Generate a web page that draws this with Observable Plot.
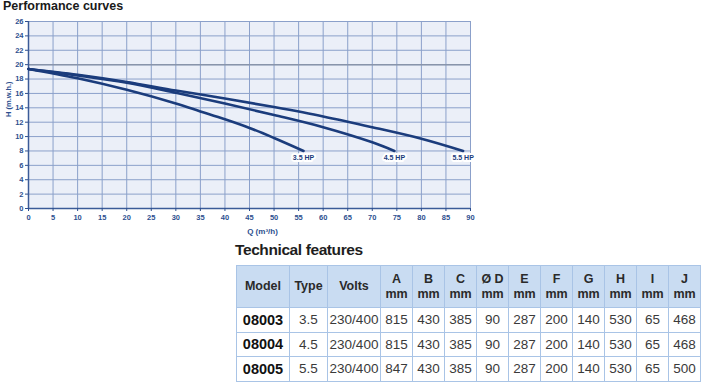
<!DOCTYPE html>
<html>
<head>
<meta charset="utf-8">
<script src="https://cdn.jsdelivr.net/npm/d3@7"></script>
<script src="https://cdn.jsdelivr.net/npm/@observablehq/plot@0.6"></script>
<style>
  html, body { margin: 0; padding: 0; background: #fff; width: 705px; height: 386px; overflow: hidden; }
  #wrap { position: relative; width: 705px; height: 386px; }
  #title { position: absolute; left: 3px; top: -1px; font: bold 12.5px "Liberation Sans", Arial, sans-serif; color: #1a1a1a; line-height: 15px; }
  #chart { position: absolute; left: 0; top: 16px; }
  #ttitle { position: absolute; left: 235px; top: 241px; font: bold 15.5px "Liberation Sans", Arial, sans-serif; color: #1e1e1e; line-height: 18px; letter-spacing: -0.4px; }
  #tbl { position: absolute; left: 236px; top: 265px; border-collapse: collapse; table-layout: fixed; font-family: "Liberation Sans", Arial, sans-serif; }
  #tbl td, #tbl th { border: 1px solid #a9c4e6; text-align: center; padding: 0; }
  #tbl th { background: #c9dcf2; color: #2a2a2a; font-weight: bold; font-size: 12.5px; line-height: 15px; height: 41px; }
  #tbl td { background: #fff; color: #3a3a3a; font-size: 13.5px; height: 23.5px; }
  #tbl td.model { font-weight: bold; color: #111; font-size: 14.5px; }
  #tbl { border: 1.5px solid #9cbbe0; }
</style>
</head>
<body>
<div id="wrap">
  <div id="title">Performance curves</div>
  <div id="chart"></div>
  <div id="ttitle">Technical features</div>
  <table id="tbl"></table>
</div>
<script>
// ---- Curve data: Q (m³/h) and H (m.w.h.) ----
const series = ["3.5 HP", "4.5 HP", "5.5 HP"];
const q35 = [0, 10, 20, 30, 35, 40, 45, 50, 56];
const h35 = [19.4, 18.1, 16.5, 14.6, 13.5, 12.4, 11.2, 9.8, 8.0];
const q45 = [0, 10, 20, 30, 40, 50, 60, 70, 74.5];
const h45 = [19.4, 18.5, 17.5, 16.1, 14.6, 13.0, 11.3, 9.2, 8.0];
const q55 = [0, 10, 20, 30, 40, 50, 60, 70, 80, 88.5];
const h55 = [19.4, 18.6, 17.6, 16.4, 15.3, 14.1, 12.8, 11.3, 9.7, 8.0];
const xTicks = [0, 5, 10, 15, 20, 25, 30, 35, 40, 45, 50, 55, 60, 65, 70, 75, 80, 85, 90];
const yTicks = [0, 2, 4, 6, 8, 10, 12, 14, 16, 18, 20, 22, 24, 26];
const xLabel = "Q (m³/h)";
const yLabel = "H (m.w.h.)";

// ---- Table data ----
const headers = ["Model", "Type", "Volts", "A", "B", "C", "Ø D", "E", "F", "G", "H", "I", "J"];
const units = ["", "", "", "mm", "mm", "mm", "mm", "mm", "mm", "mm", "mm", "mm", "mm"];
const models = ["08003", "08004", "08005"];
const types = ["3.5", "4.5", "5.5"];
const volts = ["230/400", "230/400", "230/400"];
const dimA = [815, 815, 847];
const dimB = [430, 430, 430];
const dimC = [385, 385, 385];
const dimD = [90, 90, 90];
const dimE = [287, 287, 287];
const dimF = [200, 200, 200];
const dimG = [140, 140, 140];
const dimH = [530, 530, 530];
const dimI = [65, 65, 65];
const dimJ = [468, 468, 500];

const qs = [q35, q45, q55];
const hs = [h35, h45, h55];
const pts = [];
const ends = [];
series.forEach((s, i) => {
  qs[i].forEach((q, j) => pts.push({s, q, h: hs[i][j]}));
  const n = qs[i].length - 1;
  ends.push({s, q: qs[i][n], h: hs[i][n]});
});

const gridColor = "#8ba0ca";
const axisColor = "#2d4f8f";
const lineColor = "#1b3c7c";

const chart = Plot.plot({
  width: 480,
  height: 224,
  marginLeft: 28,
  marginRight: 10,
  marginTop: 5,
  marginBottom: 32,
  x: {domain: [0, 90]},
  y: {domain: [0, 26]},
  style: {fontFamily: "'Liberation Sans Narrow', 'Liberation Sans', Arial, sans-serif", fontSize: "7.5px", fontWeight: "bold", background: "transparent"},
  marks: [
    Plot.frame({fill: "#ebeff8", stroke: null}),
    Plot.gridX(xTicks, {stroke: gridColor, strokeOpacity: 1, strokeWidth: 1}),
    Plot.gridY(yTicks, {stroke: gridColor, strokeOpacity: 1, strokeWidth: 1}),
    Plot.ruleY([20], {stroke: "#8894aa", strokeWidth: 1.5}),
    Plot.frame({stroke: gridColor}),
    Plot.ruleX([0], {stroke: "#3b5b98", strokeWidth: 1.5}),
    Plot.ruleY([0], {stroke: "#3b5b98", strokeWidth: 1.5}),
    Plot.axisX(xTicks, {tickSize: 3, tickPadding: 3, label: null, color: axisColor}),
    Plot.axisY(yTicks, {tickSize: 3, tickPadding: 2, label: null, color: axisColor}),
    Plot.line(pts, {x: "q", y: "h", z: "s", curve: "catmull-rom", stroke: lineColor, strokeWidth: 2.6}),
    Plot.text(ends, {x: "q", y: "h", text: "s", dy: 7, fill: lineColor, stroke: "white", strokeWidth: 4, fontSize: 7, textAnchor: "middle"}),
    Plot.text([xLabel], {frameAnchor: "bottom", dy: 25, dx: 13, fill: axisColor, fontSize: 8}),
    Plot.text([yLabel], {frameAnchor: "left", dx: -20, dy: 2, rotate: -90, fill: axisColor, fontSize: 7.5})
  ]
});
document.getElementById("chart").appendChild(chart);

// ---- Build table ----
const widths = [53, 38, 53, 32, 32, 32, 32, 32, 32, 32, 32, 32, 32];
const tbl = document.getElementById("tbl");
const colgroup = document.createElement("colgroup");
widths.forEach(w => { const c = document.createElement("col"); c.style.width = w + "px"; colgroup.appendChild(c); });
tbl.appendChild(colgroup);
const hr = document.createElement("tr");
headers.forEach((h, i) => {
  const th = document.createElement("th");
  th.innerHTML = units[i] ? h + "<br>" + units[i] : h;
  hr.appendChild(th);
});
tbl.appendChild(hr);
const cols = [models, types, volts, dimA, dimB, dimC, dimD, dimE, dimF, dimG, dimH, dimI, dimJ];
models.forEach((m, r) => {
  const tr = document.createElement("tr");
  cols.forEach((col, c) => {
    const td = document.createElement("td");
    td.textContent = col[r];
    if (c === 0) td.className = "model";
    tr.appendChild(td);
  });
  tbl.appendChild(tr);
});
</script>
</body>
</html>
